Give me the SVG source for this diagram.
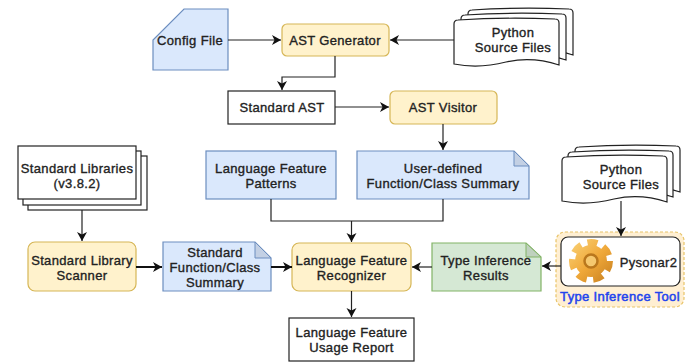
<svg xmlns="http://www.w3.org/2000/svg" width="691" height="362" viewBox="0 0 691 362">
<style>
text{font-family:"Liberation Sans",Arial,sans-serif;font-size:13px;fill:#222;text-anchor:middle;letter-spacing:.35px;stroke:#222;stroke-width:.35px}
.y{fill:#fff2cc;stroke:#d6b656;stroke-width:1.2}
.b{fill:#dae8fc;stroke:#6c8ebf;stroke-width:1.2}
.bf{fill:#c3d0e4;stroke:#6c8ebf;stroke-width:1}
.g{fill:#d5e8d4;stroke:#82b366;stroke-width:1.2}
.gf{fill:#bfd1be;stroke:#82b366;stroke-width:1}
.w{fill:#fff;stroke:#222;stroke-width:1.2}
.c{fill:none;stroke:#222;stroke-width:1.2}
.t{fill:none;stroke:#111;stroke-width:2}
</style>
<defs>
<marker id="a" markerUnits="userSpaceOnUse" markerWidth="11" markerHeight="11" refX="9" refY="5" orient="auto"><path d="M0 0L9 5L0 10L2.5 5Z" fill="#111"/></marker>
<path id="doc" d="M0 6Q0 2 4 2Q50-1 101 1Q105 1 105 5V47Q78 38 52 44Q25 51 0 46Z"/>
<linearGradient id="gear" gradientUnits="userSpaceOnUse" x1="572" y1="242" x2="610" y2="282"><stop offset="0" stop-color="#f9cf72"/><stop offset=".5" stop-color="#f0a93a"/><stop offset="1" stop-color="#c98120"/></linearGradient>
</defs>
<g id="config-file"><path class="b" d="M184 9H228V70H153V40Z"/><text x="190" y="45">Config File</text></g>
<g id="ast-generator"><rect class="y" x="282" y="24" width="107" height="32" rx="5"/><text x="335" y="45">AST Generator</text></g>
<g id="python-source-top">
<use href="#doc" x="468" y="8" class="w"/><use href="#doc" x="461" y="13" class="w"/><use href="#doc" x="454" y="18" class="w"/>
<text x="513" y="37">Python</text><text x="513" y="52">Source Files</text></g>
<g id="standard-ast"><rect class="w" x="228" y="91" width="107" height="33"/><text x="282" y="112">Standard AST</text></g>
<g id="ast-visitor"><rect class="y" x="390" y="91" width="107" height="33" rx="5"/><text x="443" y="112">AST Visitor</text></g>
<g id="language-feature-patterns"><rect class="b" x="206" y="151" width="130" height="48"/><text x="271" y="173">Language Feature</text><text x="271" y="188">Patterns</text></g>
<g id="user-defined-summary"><path class="b" d="M357 151H514L529 166V199H357Z"/><path class="bf" d="M514 151L529 166H514Z"/><text x="443" y="173">User-defined</text><text x="443" y="188">Function/Class Summary</text></g>
<g id="standard-libraries"><rect class="w" x="28" y="156" width="119" height="54"/><rect class="w" x="23" y="151" width="118" height="54"/><rect class="w" x="18" y="146" width="118" height="53"/><text x="77" y="173">Standard Libraries</text><text x="77" y="188">(v3.8.2)</text></g>
<g id="standard-library-scanner"><rect class="y" x="28" y="242" width="108" height="49" rx="7"/><text x="82" y="265">Standard Library</text><text x="82" y="280">Scanner</text></g>
<g id="standard-summary"><path class="b" d="M163 242H255L271 258V291H163Z"/><path class="bf" d="M255 242L271 258H255Z"/><text x="215" y="257">Standard</text><text x="215" y="272">Function/Class</text><text x="215" y="287">Summary</text></g>
<g id="language-feature-recognizer"><rect class="y" x="292" y="243" width="119" height="48" rx="7"/><text x="351.500" y="265">Language Feature</text><text x="351.500" y="280">Recognizer</text></g>
<g id="type-inference-results"><path class="g" d="M432 243H526L541 257V291H432Z"/><path class="gf" d="M526 243L541 257H526Z"/><text x="486" y="265">Type Inference</text><text x="486" y="280">Results</text></g>
<g id="usage-report"><rect class="w" x="289" y="318" width="125" height="43"/><text x="351.500" y="337">Language Feature</text><text x="351.500" y="352">Usage Report</text></g>
<g id="python-source-right">
<use href="#doc" x="575" y="145" class="w"/><use href="#doc" x="568" y="150" class="w"/><use href="#doc" x="562" y="155" class="w"/>
<text x="621" y="174">Python</text><text x="621" y="189">Source Files</text></g>
<g id="type-inference-tool">
<rect x="556" y="232" width="128" height="75" rx="9" fill="#ffefd2" stroke="#e8c468" stroke-width="1.200" stroke-dasharray="3 2"/>
<rect class="w" x="561" y="237" width="119" height="49" rx="7"/>
<circle cx="591" cy="261" r="16" fill="url(#gear)"/>
<circle cx="591" cy="261" r="18.500" fill="none" stroke="url(#gear)" stroke-width="7" stroke-dasharray="10 6.600"/>
<circle cx="591" cy="261" r="6.500" fill="#f5c86f" stroke="#b9771d" stroke-width="2.500"/>
<text x="648.500" y="267">Pysonar2</text>
<text x="620" y="301" style="fill:#2244ee;stroke:#2244ee;stroke-width:.5px">Type Inference Tool</text>
</g>
<g id="connectors">
<path class="c" d="M228 40H281" marker-end="url(#a)"/>
<path class="c" d="M454 40H390" marker-end="url(#a)"/>
<path class="c" d="M335 56V77H282V90" marker-end="url(#a)"/>
<path class="c" d="M335 107H389" marker-end="url(#a)"/>
<path class="c" d="M443 124V150" marker-end="url(#a)"/>
<path class="c" d="M271 199V221H443V199"/>
<path class="c" d="M351.500 221V242" marker-end="url(#a)"/>
<path class="c" d="M82 210V241" marker-end="url(#a)"/>
<path class="t" d="M136 267H162" marker-end="url(#a)"/>
<path class="t" d="M271 267H292" marker-end="url(#a)"/>
<path class="c" d="M432 267H412" marker-end="url(#a)"/>
<path class="c" d="M351.500 291V317" marker-end="url(#a)"/>
<path class="c" d="M621 201V236" marker-end="url(#a)"/>
<path class="c" d="M561 266H542" marker-end="url(#a)"/>
</g>
</svg>
